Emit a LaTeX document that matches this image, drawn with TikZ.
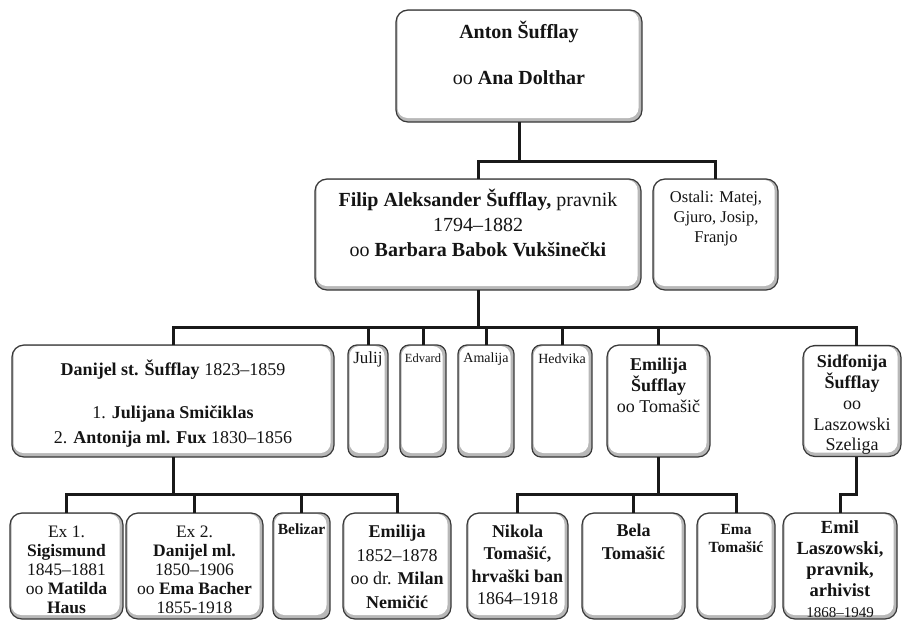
\documentclass[tikz,border=0pt]{standalone}
\usepackage{fontspec}
\setmainfont{Liberation Serif}
\begin{document}
\begin{tikzpicture}[x=1pt,y=-1pt]
\tikzset{
  box/.style={draw=black!78, line width=1.2pt, rounded corners=12pt, fill=white,
    inner sep=0pt, outer sep=0pt,
    path picture={
      \fill[black!28] (path picture bounding box.south west) rectangle (path picture bounding box.north east);
      \fill[white, rounded corners=10pt] ([shift={(1.5pt,-1pt)}]path picture bounding box.north west)
        rectangle ([shift={(-3.5pt,4pt)}]path picture bounding box.south east);
    }},
  sbox/.style={box, rounded corners=9pt},
  conn/.style={line width=3pt, black!90},
  txt/.style={align=center, inner sep=0pt, text=black!92},
}
\useasboundingbox (0,0) rectangle (902,621);

% boxes
\node[box, minimum width=246pt, minimum height=112pt] (anton) at (519,66) {};
\node[box, minimum width=326pt, minimum height=111pt] (filip) at (478,234.5) {};
\node[box, minimum width=125pt, minimum height=111pt] (ostali) at (715.5,234.5) {};

\node[box, minimum width=322pt, minimum height=112pt] (danst) at (173,401) {};
\node[sbox, minimum width=40pt, minimum height=112pt] (julij) at (368,401) {};
\node[sbox, minimum width=46pt, minimum height=112pt] (edvard) at (423,401) {};
\node[sbox, minimum width=56pt, minimum height=112pt] (amalija) at (486,401) {};
\node[sbox, minimum width=60pt, minimum height=112pt] (hedvika) at (562,401) {};
\node[box, minimum width=103pt, minimum height=112pt] (emilijas) at (658.5,401) {};
\node[box, minimum width=98pt, minimum height=111pt] (sid) at (852,401) {};

\node[box, minimum width=113pt, minimum height=106pt] (ex1) at (66.5,566) {};
\node[box, minimum width=137pt, minimum height=106pt] (ex2) at (194.5,566) {};
\node[sbox, minimum width=57pt, minimum height=106pt] (belizar) at (301.5,566) {};
\node[box, minimum width=108pt, minimum height=106pt] (emilija2) at (397,566) {};
\node[box, minimum width=101pt, minimum height=106pt] (nikola) at (517.5,566) {};
\node[box, minimum width=103pt, minimum height=106pt] (bela) at (633.5,566) {};
\node[box, minimum width=78pt, minimum height=106pt] (ema) at (736,566) {};
\node[box, minimum width=114pt, minimum height=106pt] (emil) at (840,566) {};

% connectors
\coordinate (j1) at (518,161);
\draw[conn] (anton.south) -- (anton.south |- j1);
\draw[conn] (filip.north) |- (ostali.north |- j1) -- (ostali.north);

\coordinate (j2) at (478,327);
\coordinate (sidtop) at ([xshift=4pt]sid.north);
\draw[conn] (filip.south) -- (filip.south |- j2);
\draw[conn] (danst.north) |- (sidtop |- j2) -- (sidtop);
\foreach \n in {julij,edvard,amalija,hedvika,emilijas}
  \draw[conn] (\n.north) -- (\n.north |- j2);

\coordinate (j3) at (173,494);
\draw[conn] (danst.south) -- (danst.south |- j3);
\draw[conn] (ex1.north) |- (emilija2.north |- j3) -- (emilija2.north);
\foreach \n in {ex2,belizar}
  \draw[conn] (\n.north) -- (\n.north |- j3);

\coordinate (j4) at (658,494);
\draw[conn] (emilijas.south) -- (emilijas.south |- j4);
\draw[conn] (nikola.north) |- (ema.north |- j4) -- (ema.north);
\draw[conn] (bela.north) -- (bela.north |- j4);

\coordinate (sidbot) at ([xshift=4pt]sid.south);
\draw[conn] (sidbot) -- ++(0,38) -| (emil.north);

% texts
\node[txt, font=\fontsize{20}{23}\selectfont] (tanton) at (519,53)
  {\textbf{Anton Šufflay}\\[23pt]oo \textbf{Ana Dolthar}};
\node[txt, font=\fontsize{20}{25}\selectfont] (tfilip) at (478,223)
  {\textbf{Filip Aleksander Šufflay,} pravnik\\1794–1882\\oo \textbf{Barbara Babok Vukšinečki}};
\node[txt, font=\fontsize{16.5}{20}\selectfont] (tostali) at (716,219)
  {Ostali: Matej,\\Gjuro, Josip,\\Franjo};

\node[txt, font=\fontsize{18}{25}\selectfont] (tdanst) at (173,404)
  {\textbf{Danijel st. Šufflay} 1823–1859\\[18pt]1. \textbf{Julijana Smičiklas}\\2. \textbf{Antonija ml. Fux} 1830–1856};
\node[txt, font=\fontsize{17}{18}\selectfont] (tjulij) at (368,359) {Julij};
\node[txt, font=\fontsize{12.5}{14}\selectfont] (tedvard) at (423,358) {Edvard};
\node[txt, font=\fontsize{14}{16}\selectfont] (tamalija) at (486,359) {Amalija};
\node[txt, font=\fontsize{14}{16}\selectfont] (thedvika) at (562,359) {Hedvika};
\node[txt, font=\fontsize{18}{21}\selectfont] (temilijas) at (658.5,385)
  {\textbf{Emilija}\\\textbf{Šufflay}\\oo Tomašič};
\node[txt, font=\fontsize{18}{20.75}\selectfont] (tsid) at (852,405)
  {\textbf{Sidfonija}\\\textbf{Šufflay}\\oo\\Laszowski\\Szeliga};

\node[txt, font=\fontsize{17.5}{19}\selectfont] (tex1) at (66.5,570)
  {Ex 1.\\\textbf{Sigismund}\\1845–1881\\oo \textbf{Matilda}\\\textbf{Haus}};
\node[txt, font=\fontsize{17.5}{19}\selectfont] (tex2) at (194.5,570)
  {Ex 2.\\\textbf{Danijel ml.}\\1850–1906\\oo \textbf{Ema Bacher}\\1855-1918};
\node[txt, font=\fontsize{15.5}{18}\selectfont] (tbelizar) at (301.5,529) {\textbf{Belizar}};
\node[txt, font=\fontsize{18}{23.5}\selectfont] (temilija2) at (397,567)
  {\textbf{Emilija}\\1852–1878\\oo dr. \textbf{Milan}\\\textbf{Nemičić}};
\node[txt, font=\fontsize{18}{22.5}\selectfont] (tnikola) at (517.5,565)
  {\textbf{Nikola}\\\textbf{Tomašić,}\\\textbf{hrvaški ban}\\1864–1918};
\node[txt, font=\fontsize{18}{23}\selectfont] (tbela) at (633.5,542)
  {\textbf{Bela}\\\textbf{Tomašić}};
\node[txt, font=\fontsize{15.5}{18}\selectfont] (tema) at (736,538)
  {\textbf{Ema}\\\textbf{Tomašić}};
\node[txt, font=\fontsize{18.5}{21}\selectfont] (temil) at (840,569)
  {\textbf{Emil}\\\textbf{Laszowski,}\\\textbf{pravnik,}\\\textbf{arhivist}\\{\fontsize{15}{15}\selectfont 1868–1949}};
\end{tikzpicture}
\end{document}
